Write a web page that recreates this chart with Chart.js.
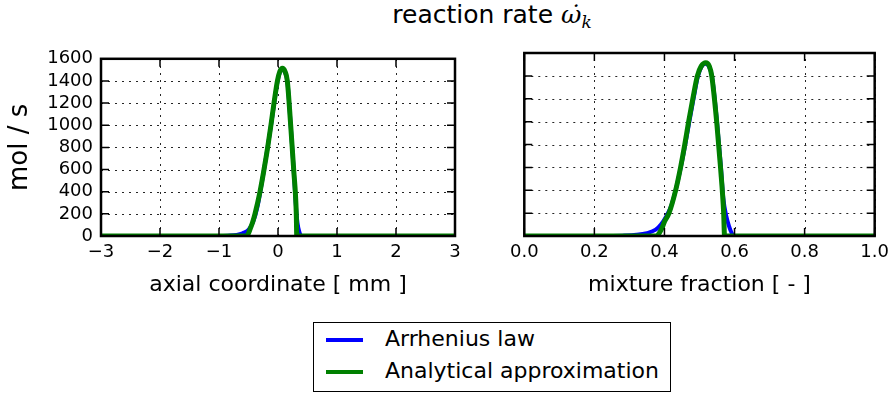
<!DOCTYPE html>
<html>
<head>
<meta charset="utf-8">
<script src="https://cdn.jsdelivr.net/npm/chart.js@4/dist/chart.umd.min.js"></script>
<style>
  html, body { margin:0; padding:0; background:#fff; }
  body { width:895px; height:397px; position:relative; overflow:hidden; font-family:"DejaVu Sans", sans-serif; color:#000; }
  canvas { position:absolute; }
  #title { position:absolute; left:0; width:984px; top:2px; text-align:center; font-size:25px; line-height:25px; white-space:nowrap; }
  #title .m { font-family:"DejaVu Serif", serif; font-style:italic; }
  #title sub { font-family:"DejaVu Serif", serif; font-style:italic; font-size:17px; vertical-align:-5px; line-height:0; }
  #legend { position:absolute; left:313px; top:322px; width:356px; height:68px; border:1.5px solid #000; background:#fff; }
  .item { position:absolute; left:0; height:32px; width:100%; }
  .sw { position:absolute; left:12px; width:37px; height:4px; }
  .lt { position:absolute; left:71px; font-size:22px; line-height:22px; white-space:nowrap; }
</style>
</head>
<body>
<div id="title">reaction rate <span class="m">ω̇</span><sub>k</sub></div>
<canvas id="c1" width="470" height="270" style="left:0px;top:40px;"></canvas>
<canvas id="c2" width="425" height="270" style="left:470px;top:40px;"></canvas>
<div id="legend"></div>
<script>
// ---- data ----
const seriesNames = ["Arrhenius law", "Analytical approximation"];
const seriesColors = ["#0000ff", "#008000"];

// left panel: axial coordinate [mm]
const arrhX_mm = [-3, -1.0, -0.85, -0.7, -0.6, -0.5, -0.42, -0.35, -0.29, -0.23, -0.17, -0.115, -0.065, -0.01, 0.03, 0.075, 0.12, 0.16, 0.215, 0.265, 0.3, 0.33, 0.36, 0.40, 3];
const arrhY_mm = [0, 0, 3, 10, 25, 55, 130, 260, 430, 620, 820, 1010, 1200, 1390, 1475, 1505, 1475, 1390, 1000, 610, 300, 120, 40, 0, 0];
const apprX_mm = [-3, -0.53, -0.5, -0.47, -0.43, -0.39, -0.305, -0.237, -0.175, -0.12, -0.068, -0.01, 0.03, 0.075, 0.12, 0.158, 0.215, 0.266, 0.31, 0.318, 3];
const apprY_mm = [0, 0, 25, 67, 125, 200, 400, 600, 800, 1000, 1200, 1400, 1485, 1515, 1485, 1400, 1000, 600, 200, 0, 0];

// right panel: mixture fraction [-]
const arrhX_z = [0, 0.22, 0.28, 0.32, 0.35, 0.375, 0.39, 0.405, 0.42, 0.435, 0.448, 0.46, 0.471, 0.483, 0.495, 0.505, 0.517, 0.528, 0.536, 0.55, 0.561, 0.568, 0.576, 0.585, 0.592, 0.598, 1];
const arrhY_z = [0, 0, 3, 10, 25, 55, 100, 170, 270, 440, 620, 810, 1000, 1200, 1390, 1475, 1505, 1475, 1390, 1000, 610, 330, 180, 80, 25, 0, 0];
const apprX_z = [0, 0.375, 0.385, 0.393, 0.4, 0.413, 0.432, 0.446, 0.458, 0.469, 0.481, 0.494, 0.505, 0.518, 0.528, 0.535, 0.549, 0.56, 0.569, 0.5715, 1];
const apprY_z = [0, 0, 25, 70, 125, 200, 400, 600, 800, 1000, 1200, 1400, 1485, 1515, 1485, 1400, 1000, 600, 200, 0, 0];

const yMin = 0, yMax = 1600, yStep = 200;
const xRangeMm = [-3, 3], xStepMm = 1;
const xRangeZ = [0, 1], xStepZ = 0.2;
const yLabel = "mol / s";
const xLabelMm = "axial coordinate [ mm ]";
const xLabelZ = "mixture fraction [ - ]";

// ---- helpers ----
const pts = (xs, ys) => xs.map((x, i) => ({x: x, y: ys[i]}));
const FONT = "DejaVu Sans";

const framePlugin = {
  id: 'frame',
  beforeDatasetsDraw(chart) {
    const {ctx, chartArea: a, scales: {x, y}} = chart;
    ctx.save();
    ctx.strokeStyle = 'rgba(0,0,0,0.85)';
    ctx.lineWidth = 1;
    ctx.setLineDash([2, 5]);
    x.ticks.forEach(t => {
      const px = Math.round(x.getPixelForValue(t.value)) + 0.5;
      ctx.beginPath(); ctx.moveTo(px, a.bottom); ctx.lineTo(px, a.top); ctx.stroke();
    });
    y.ticks.forEach(t => {
      const py = Math.round(y.getPixelForValue(t.value)) + 0.5;
      ctx.beginPath(); ctx.moveTo(a.left, py); ctx.lineTo(a.right, py); ctx.stroke();
    });
    ctx.restore();
  },
  afterDatasetsDraw(chart) {
    const {ctx, chartArea: a, scales: {x, y}} = chart;
    ctx.save();
    ctx.strokeStyle = '#000';
    ctx.setLineDash([]);
    ctx.lineWidth = 1.5;
    const L = 8;
    x.ticks.forEach(t => {
      const px = x.getPixelForValue(t.value);
      ctx.beginPath();
      ctx.moveTo(px, a.bottom); ctx.lineTo(px, a.bottom - L);
      ctx.moveTo(px, a.top); ctx.lineTo(px, a.top + L);
      ctx.stroke();
    });
    y.ticks.forEach(t => {
      const py = y.getPixelForValue(t.value);
      ctx.beginPath();
      ctx.moveTo(a.left, py); ctx.lineTo(a.left + L, py);
      ctx.moveTo(a.right, py); ctx.lineTo(a.right - L, py);
      ctx.stroke();
    });
    ctx.lineWidth = 2.5;
    ctx.strokeRect(a.left, a.top, a.right - a.left, a.bottom - a.top);
    ctx.restore();
  }
};

function makeDatasets(ax, ay, gx, gy) {
  return [
    {label: seriesNames[1], data: pts(gx, gy), borderColor: seriesColors[1], borderWidth: 5, clip: 0,
     pointRadius: 0, fill: false, cubicInterpolationMode: 'monotone'},
    {label: seriesNames[0], data: pts(ax, ay), borderColor: seriesColors[0], borderWidth: 4, clip: 0,
     pointRadius: 0, fill: false, cubicInterpolationMode: 'monotone'}
  ];
}

function makeChart(id, datasets, opts) {
  return new Chart(document.getElementById(id), {
    type: 'line',
    data: {datasets: datasets},
    plugins: [framePlugin],
    options: {
      responsive: false,
      animation: false,
      events: [],
      layout: {padding: {top: 13, right: opts.padRight, left: 0, bottom: 0}},
      plugins: {legend: {display: false}, tooltip: {enabled: false}, title: {display: false}},
      scales: {
        x: {
          type: 'linear', min: opts.xRange[0], max: opts.xRange[1],
          grid: {display: false, drawTicks: false}, border: {display: false},
          ticks: {stepSize: opts.xStep, autoSkip: false, maxRotation: 0, padding: 6, color: '#000',
                  font: {family: FONT, size: 18}, callback: opts.xFmt},
          title: {display: true, text: opts.xLabel, color: '#000', font: {family: FONT, size: 22},
                  padding: {top: 0, bottom: 12}},
          afterFit(s) { s.height = 74; }
        },
        y: {
          type: 'linear', min: yMin, max: yMax,
          grid: {display: false, drawTicks: false}, border: {display: false},
          ticks: {display: opts.yTicks, stepSize: yStep, autoSkip: false, padding: 8, color: '#000',
                  font: {family: FONT, size: 18}, callback: v => String(v)},
          title: {display: opts.yTicks, text: yLabel, color: '#000', font: {family: FONT, size: 26},
                  padding: {top: 5, bottom: 0}},
          afterFit(s) { s.width = opts.yWidth; }
        }
      }
    }
  });
}

const fmtMm = v => (v < 0 ? '\u2212' + Math.abs(v) : String(v));
const fmtZ = v => Number(v).toFixed(1);

makeChart('c1', makeDatasets(arrhX_mm, arrhY_mm, apprX_mm, apprY_mm),
  {xRange: xRangeMm, xStep: xStepMm, xFmt: fmtMm, xLabel: xLabelMm, yTicks: true, yWidth: 101, padRight: 15});
makeChart('c2', makeDatasets(arrhX_z, arrhY_z, apprX_z, apprY_z),
  {xRange: xRangeZ, xStep: xStepZ, xFmt: fmtZ, xLabel: xLabelZ, yTicks: false, yWidth: 54.3, padRight: 18});

// legend built from the series definitions
const leg = document.getElementById('legend');
seriesNames.forEach((name, i) => {
  const it = document.createElement('div');
  it.className = 'item';
  it.style.top = (1 + i * 32) + 'px';
  it.innerHTML = '<div class="sw" style="top:14px;background:' + seriesColors[i] + '"></div>' +
                 '<div class="lt" style="top:4px">' + name + '</div>';
  leg.appendChild(it);
});
</script>
</body>
</html>
